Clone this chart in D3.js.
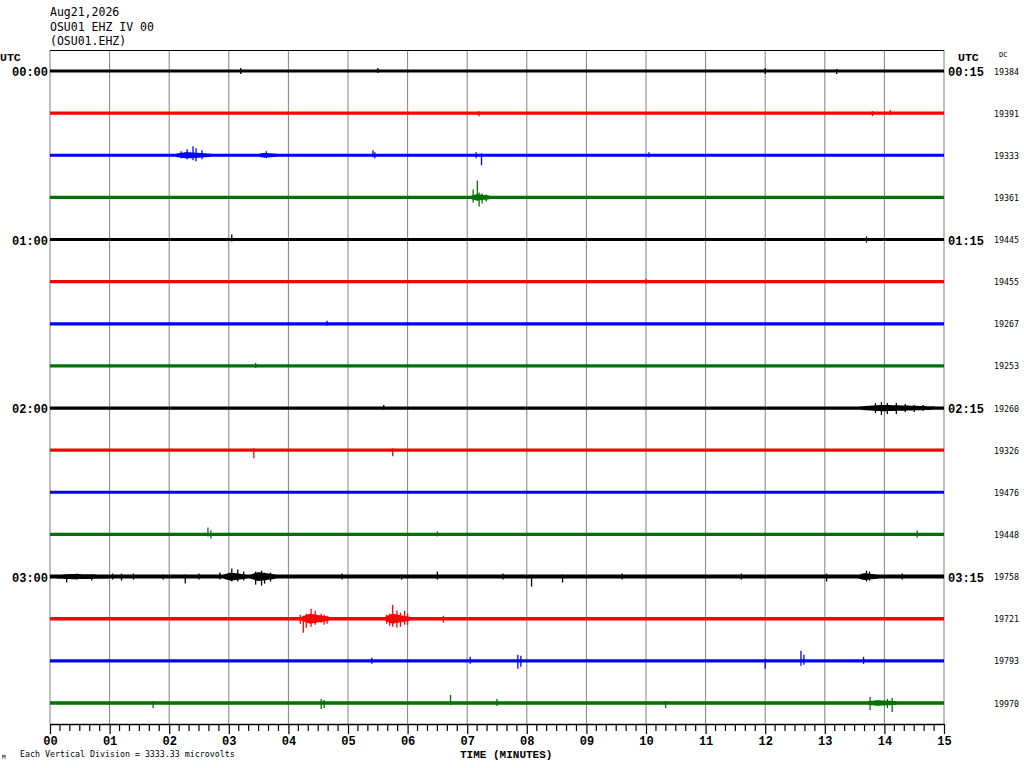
<!DOCTYPE html>
<html lang="en">
<head>
<meta charset="UTF-8"/>
<title>OSU01 EHZ helicorder</title>
<script src="https://cdn.jsdelivr.net/npm/d3@7/dist/d3.min.js"></script>
<style>
  * { margin: 0; padding: 0; }
  body { background: #fff; width: 1024px; height: 768px; overflow: hidden; }
  svg { display: block; }
  .mono { font-family: "DejaVu Sans Mono", "Liberation Mono", monospace; }
  .bold { font-family: "Liberation Mono", "DejaVu Sans Mono", monospace; font-weight: bold; }
</style>
</head>
<body>
<svg id="chart" width="1024" height="768"></svg>
<script>
// --- data ---

const headerLines = ['Aug21,2026', 'OSU01 EHZ IV 00', '(OSU01.EHZ)']
const minuteTicks = d3.range(0, 16)               // 00 .. 15
const rowColors   = ['#000000', '#ff0000', '#0000ff', '#007000']
const hourLabels  = [[0, '00:00', '00:15'], [4, '01:00', '01:15'], [8, '02:00', '02:15'], [12, '03:00', '03:15']]
const dcValues    = [19384, 19391, 19333, 19361, 19445, 19455, 19267, 19253,
                     19260, 19326, 19476, 19448, 19758, 19721, 19793, 19970]

// background noise half-width of each trace, in px
const baseNoise   = [1.6, 1.7, 1.6, 1.6, 1.5, 1.6, 1.6, 1.6, 1.6, 1.6, 1.5, 1.6, 2.0, 1.7, 1.6, 1.7]

// louder stretches of a trace: [row, fromMin, toMin, peak half-width px]
const bursts = [
  [2, 2.1, 2.7, 3.2], [2, 3.5, 3.8, 2.4], [3, 7.05, 7.4, 3.2],
  [8, 13.55, 14.9, 3.2], [12, 0.1, 1.0, 2.6], [12, 2.9, 3.3, 4], [12, 3.35, 3.8, 4.5],
  [12, 13.55, 13.9, 3.4], [13, 4.2, 4.7, 5], [13, 5.6, 6.05, 5], [15, 13.7, 14.25, 2.8]
]

// single spikes: [row, minute, up px, down px]
const spikes = [
  [0, 3.2, 3, 3], [0, 5.5, 3, 2], [0, 12.0, 3, 3], [0, 13.2, 2, 3],
  [1, 7.2, 2, 3], [1, 13.8, 2, 3], [1, 14.1, 3, 2],
  [2, 2.2, 4, 3], [2, 2.3, 6, 4], [2, 2.4, 9, 5], [2, 2.45, 7, 6], [2, 2.55, 5, 4], [2, 3.63, 4, 3],
  [2, 5.42, 5, 2], [2, 5.45, 3, 3], [2, 7.15, 3, 3], [2, 7.24, 2, 10], [2, 10.05, 3, 2],
  [3, 7.1, 8, 5], [3, 7.17, 17, 3], [3, 7.2, 5, 9], [3, 7.25, 4, 6], [3, 7.32, 3, 4],
  [4, 3.05, 5, 2], [4, 13.7, 3, 3],
  [5, 10.0, 3, 2], [6, 4.65, 3, 2], [7, 3.45, 3, 2],
  [8, 5.6, 3, 2], [8, 13.85, 5, 5], [8, 13.95, 6, 7], [8, 14.05, 5, 6], [8, 14.2, 5, 6],
  [8, 14.35, 4, 4], [8, 14.5, 3, 4], [8, 14.65, 3, 3],
  [9, 3.42, 2, 8], [9, 5.75, 2, 6],
  [11, 2.65, 7, 2], [11, 2.7, 4, 4], [11, 6.5, 3, 2], [11, 14.55, 4, 3],
  [12, 0.28, 2, 6], [12, 0.45, 3, 3], [12, 0.7, 2, 4], [12, 1.05, 3, 3], [12, 1.2, 3, 4],
  [12, 1.4, 3, 3], [12, 1.9, 2, 3], [12, 2.27, 2, 7], [12, 2.5, 3, 3], [12, 2.85, 4, 3],
  [12, 3.05, 8, 5], [12, 3.15, 7, 5], [12, 3.25, 5, 4], [12, 3.45, 5, 8], [12, 3.55, 6, 9],
  [12, 3.6, 4, 7], [12, 3.7, 4, 5], [12, 4.9, 3, 3], [12, 5.9, 2, 3], [12, 6.5, 5, 3],
  [12, 7.6, 3, 3], [12, 8.08, 2, 10], [12, 8.6, 2, 6], [12, 9.6, 3, 3], [12, 11.6, 3, 3],
  [12, 13.03, 3, 5], [12, 13.7, 6, 5], [12, 13.75, 5, 4], [12, 14.3, 3, 3],
  [13, 4.2, 4, 5], [13, 4.25, 3, 14], [13, 4.3, 5, 9], [13, 4.38, 10, 8], [13, 4.45, 8, 6],
  [13, 4.55, 5, 4], [13, 4.6, 4, 6], [13, 4.65, 3, 5], [13, 5.65, 4, 5], [13, 5.7, 5, 7],
  [13, 5.75, 14, 8], [13, 5.82, 8, 9], [13, 5.88, 6, 8], [13, 5.95, 8, 6], [13, 6.0, 5, 6],
  [13, 6.6, 3, 4],
  [14, 5.4, 3, 3], [14, 7.05, 4, 3], [14, 7.85, 6, 8], [14, 7.9, 5, 6], [14, 12.0, 2, 8],
  [14, 12.6, 10, 5], [14, 12.65, 6, 4], [14, 13.65, 4, 3],
  [15, 1.73, 2, 5], [15, 4.55, 4, 6], [15, 4.6, 3, 5], [15, 6.72, 8, 2], [15, 7.5, 4, 3],
  [15, 10.33, 2, 5], [15, 13.76, 6, 7], [15, 14.05, 4, 5], [15, 14.13, 5, 9]
]

// --- layout ---

const svg = d3.select('#chart')
const x   = d3.scaleLinear().domain([0, 15]).range([50, 944])
const row = d3.scaleLinear().domain([0, 15]).range([71, 703])
const plotTop = 50, plotBottom = 724

// header
svg.append('g').selectAll('text').data(headerLines).join('text')
  .attr('class', 'mono').attr('x', 50).attr('y', (d, i) => 16 + i * 14.5)
  .attr('font-size', 11.5).text(d => d)

// minute gridlines
svg.append('g').selectAll('line').data(minuteTicks).join('line')
  .attr('x1', d => x(d)).attr('x2', d => x(d))
  .attr('y1', plotTop).attr('y2', plotBottom)
  .attr('stroke', '#808080').attr('stroke-width', 1)

svg.append('line')
  .attr('x1', x(0)).attr('x2', x(15)).attr('y1', plotTop + 0.5).attr('y2', plotTop + 0.5)
  .attr('stroke', '#000')

// traces: noise band, swelling through each burst (rise to 30%, then decay), then spikes
const samples = d3.range(0, 15.0001, 1 / 60)
const area = d3.area().x(d => x(d.t)).y0(d => d.y0).y1(d => d.y1).curve(d3.curveStepAfter)

const traces = svg.append('g')
d3.range(16).forEach(r => {
  const y0 = row(r)
  const color = rowColors[r % 4]
  const base = baseNoise[r]
  const rowBursts = bursts.filter(b => b[0] === r)
  const pts = samples.map(t => {
    let w = base
    rowBursts.forEach(([, a, b, h]) => {
      if (t < a || t > b) return
      const p = a + 0.3 * (b - a)
      const f = t < p ? (t - a) / (p - a) : (b - t) / (b - p)
      w = Math.max(w, base + (h - base) * f)
    })
    return { t, y0: y0 + w, y1: y0 - w }
  })
  traces.append('path').datum(pts).attr('d', area).attr('fill', color)

  traces.append('g').selectAll('line').data(spikes.filter(s => s[0] === r)).join('line')
    .attr('x1', d => x(d[1])).attr('x2', d => x(d[1]))
    .attr('y1', d => y0 - d[2]).attr('y2', d => y0 + d[3])
    .attr('stroke', color).attr('stroke-width', 1.3)
})

// bottom axis with 10 s minor ticks
const axis = d3.axisBottom(x).tickValues(minuteTicks).tickSize(10).tickSizeOuter(0)
  .tickPadding(2).tickFormat(d => d3.format('02d')(d))
const gAxis = svg.append('g').attr('transform', `translate(0,${plotBottom})`).call(axis)
gAxis.select('.domain').attr('stroke', '#000').attr('stroke-width', 1.5)
gAxis.selectAll('.tick line').attr('stroke', '#000').attr('stroke-width', 1.2)
gAxis.selectAll('.tick text').attr('class', 'bold').attr('font-size', 12).attr('fill', '#000')

svg.append('g').selectAll('line').data(d3.range(0, 90).filter(i => i % 6)).join('line')
  .attr('x1', i => x(i / 6)).attr('x2', i => x(i / 6))
  .attr('y1', plotBottom).attr('y2', plotBottom + 7)
  .attr('stroke', '#000').attr('stroke-width', 1.2)

svg.append('text').attr('class', 'bold').attr('x', 460).attr('y', 758)
  .attr('font-size', 11).text('TIME (MINUTES)')
svg.append('text').attr('class', 'mono').attr('x', 20).attr('y', 757)
  .attr('font-size', 8.3).text('Each Vertical Division = 3333.33 microvolts')
svg.append('text').attr('class', 'mono').attr('x', 2).attr('y', 759)
  .attr('font-size', 6).text('M')

// side labels
svg.append('text').attr('class', 'bold').attr('x', 0).attr('y', 61).attr('font-size', 11.5).text('UTC')
svg.append('text').attr('class', 'bold').attr('x', 958).attr('y', 61).attr('font-size', 11.5).text('UTC')
svg.append('text').attr('class', 'mono').attr('x', 999).attr('y', 57).attr('font-size', 7).text('DC')

svg.append('g').selectAll('text').data(hourLabels).join('text')
  .attr('class', 'bold').attr('text-anchor', 'end')
  .attr('x', 48).attr('y', d => row(d[0]) + 5).attr('font-size', 12).text(d => d[1])
svg.append('g').selectAll('text').data(hourLabels).join('text')
  .attr('class', 'bold')
  .attr('x', 948).attr('y', d => row(d[0]) + 5).attr('font-size', 12).text(d => d[2])

svg.append('g').selectAll('text').data(dcValues).join('text')
  .attr('class', 'mono').attr('x', 994).attr('y', (d, i) => row(i) + 3.5)
  .attr('font-size', 8.3).text(d => d)
</script>
</body>
</html>
